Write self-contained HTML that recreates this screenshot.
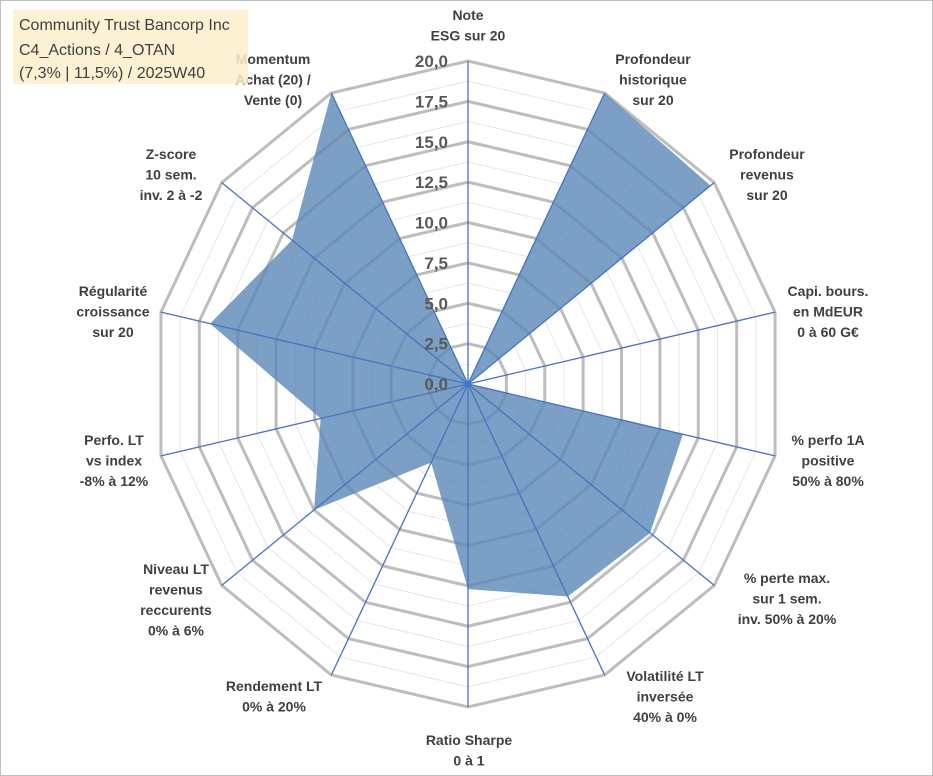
<!DOCTYPE html>
<html><head><meta charset="utf-8"><style>
body{margin:0;background:#fff;}
svg{display:block;font-family:"Liberation Sans",Arial,sans-serif;}
</style></head><body>
<svg id="chart" width="933" height="776" viewBox="0 0 933 776">
<rect x="0.5" y="0.5" width="932" height="775" fill="#fff" stroke="#bfbfbf"/>
<g id="grid"></g>
<g id="series"></g>
<g id="axes"></g>
<g id="ticks"></g>
<g id="labels"></g>
<g>
<rect x="13" y="10" width="235" height="74" fill="#fdefcc" fill-opacity="0.85"/>
<text x="19" y="30" font-size="16" fill="#404040">Community Trust Bancorp Inc</text>
<text x="19" y="55" font-size="16" fill="#404040">C4_Actions / 4_OTAN</text>
<text x="19" y="78" font-size="16" fill="#404040">(7,3% | 11,5%) / 2025W40</text>
</g>
</svg>
<script>
const categories=[["Note","ESG sur 20"],["Profondeur","historique","sur 20"],["Profondeur","revenus","sur 20"],["Capi. bours.","en MdEUR","0 à 60 G€"],["% perfo 1A","positive","50% à 80%"],["% perte max.","sur 1 sem.","inv. 50% à 20%"],["Volatilité LT","inversée","40% à 0%"],["Ratio Sharpe","0 à 1"],["Rendement LT","0% à 20%"],["Niveau LT","revenus","reccurents","0% à 6%"],["Perfo. LT","vs index","-8% à 12%"],["Régularité","croissance","sur 20"],["Z-score","10 sem.","inv. 2 à -2"],["Momentum","Achat (20) /","Vente (0)"]];
const values=[0,20,19.7,0,14.0,14.8,14.6,12.7,5.4,12.5,9.6,16.8,14.3,20];
const tickValues=[0,2.5,5,7.5,10,12.5,15,17.5,20];
const labelPos=[[468,15],[653,59],[767,154],[828,291],[828,440],[787,578],[665,676],[469,740],[274,686],[176,569],[114,440],[113,291],[171,154],[273,59]];
const cx=468,cy=384,R=323,SX=0.975,maxV=20,N=categories.length;
const NS="http://www.w3.org/2000/svg";
function ang(i){return i*2*Math.PI/N;}
function pt(i,v){const r=v/maxV*R;return [cx+SX*r*Math.sin(ang(i)),cy-r*Math.cos(ang(i))];}
function mk(t,a,p){const e=document.createElementNS(NS,t);for(const k in a)e.setAttribute(k,a[k]);p.appendChild(e);return e;}
const grid=document.getElementById('grid');
for(let v=1.25;v<=20.001;v+=1.25){
 const major=Math.abs(v/2.5-Math.round(v/2.5))<1e-6;
 const pts=[];for(let i=0;i<N;i++)pts.push(pt(i,v).join(','));
 const g=mk('polygon',{points:pts.join(' '),fill:'none',stroke:major?'#bdbdbd':'#e6e6e6','stroke-width':major?3:1},grid);
 
 
}
const ser=document.getElementById('series');
const sp=values.map((v,i)=>pt(i,v).join(',')).join(' ');
const poly=mk('polygon',{points:sp,fill:'#5b87b8','fill-opacity':0.8,stroke:'none'},ser);


const axes=document.getElementById('axes');
for(let i=0;i<N;i++){
 const [x,y]=pt(i,maxV);
 const l=mk('line',{x1:cx,y1:cy,x2:x,y2:y,stroke:'#4472c4','stroke-width':1.3},axes);
 
 
}
const ticks=document.getElementById('ticks');
tickValues.forEach(v=>{
 const t=mk('text',{x:cx-20,y:cy-v/maxV*R+6,'text-anchor':'end','font-size':17,'font-weight':'bold',fill:'#595959'},ticks);
 t.textContent=v.toFixed(1).replace('.',',');
 
 
});
const labels=document.getElementById('labels');
categories.forEach((c,i)=>{
 const t=mk('text',{'text-anchor':'middle','font-size':14,'font-weight':'bold',fill:'#404040'},labels);
 
 
 c.forEach((line,j)=>{const s=mk('tspan',{x:labelPos[i][0],y:labelPos[i][1]+5+j*20.5},t);s.textContent=line;});
});
</script>
</body></html>
